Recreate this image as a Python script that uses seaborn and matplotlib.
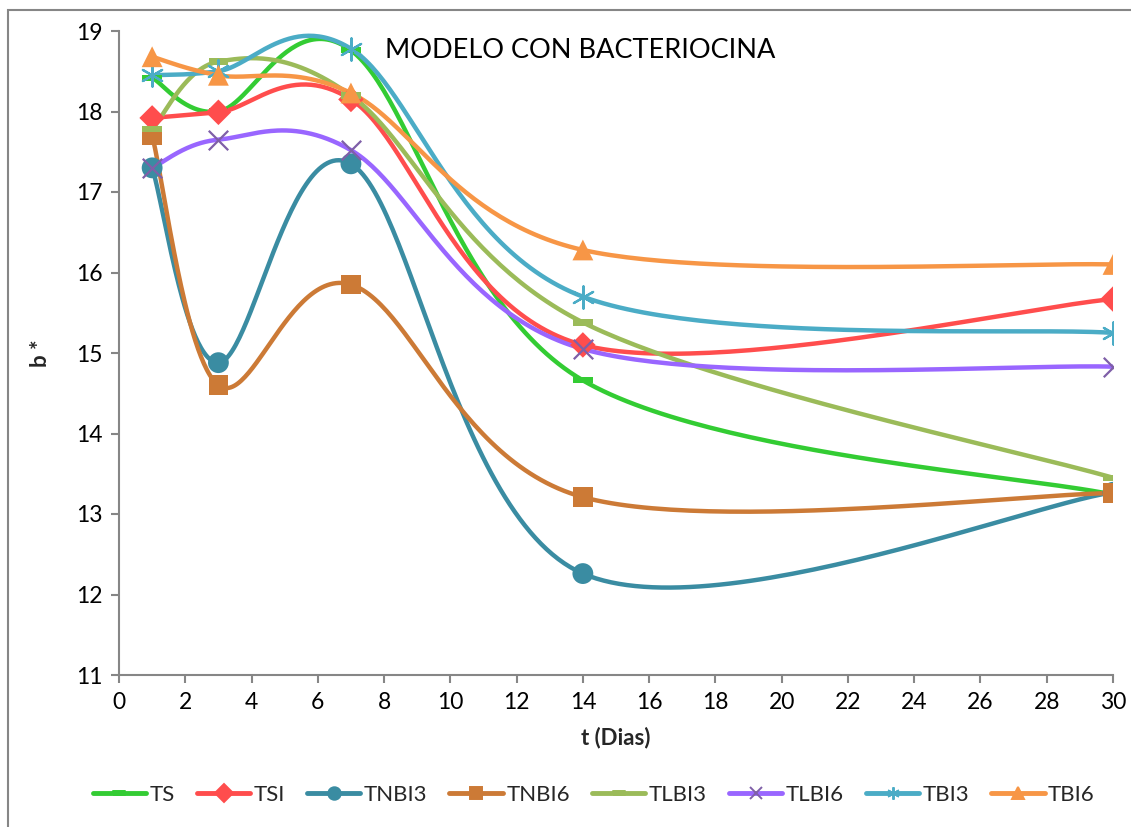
import numpy as np
import pandas as pd
import matplotlib
matplotlib.use("Agg")
import matplotlib.pyplot as plt
import seaborn as sns
from matplotlib.lines import Line2D
from matplotlib.patches import Rectangle

# Sampling days and b* colour coordinate per treatment
dias = [1, 3, 7, 14, 30]
series = ["TS", "TSI", "TNBI3", "TNBI6", "TLBI3", "TLBI6", "TBI3", "TBI6"]
ts = [18.42, 18.00, 18.76, 14.66, 13.24]
tsi = [17.92, 17.99, 18.15, 15.10, 15.67]
tnbi3 = [17.30, 14.88, 17.35, 12.26, 13.27]
tnbi6 = [17.70, 14.60, 15.85, 13.21, 13.26]
tlbi3 = [17.78, 18.62, 18.20, 15.38, 13.45]
tlbi6 = [17.30, 17.65, 17.52, 15.05, 14.83]
tbi3 = [18.45, 18.50, 18.78, 15.70, 15.25]
tbi6 = [18.68, 18.45, 18.23, 16.28, 16.10]
valores = [ts, tsi, tnbi3, tnbi6, tlbi3, tlbi6, tbi3, tbi6]

x_ticks = list(range(0, 31, 2))
y_ticks = list(range(11, 20))

colores = ["#33CC33", "#FF4D4D", "#3A8CA2", "#CC7A36", "#9BBB59", "#9966FF", "#4BACC6", "#F79646"]
marker_col = ["#33CC33", "#FF4D4D", "#3A8CA2", "#CC7A36", "#9BBB59", "#7F5FA8", "#4BACC6", "#F79646"]
dash = [(-1, -0.32), (1, -0.32), (1, 0.32), (-1, 0.32), (-1, -0.32)]
marcadores = [dash, "D", "o", "s", dash, "x", (6, 2, 0), "^"]
tam = [14, 13, 15, 14, 14, 14, 16, 15]

sns.set_theme(style="white")
plt.rcParams["font.family"] = ["Lato", "DejaVu Sans"]

fig = plt.figure(figsize=(11.31, 8.27), dpi=100)
ax = fig.add_axes([119 / 1131, 1 - 675 / 827, (1113 - 119) / 1131, (675 - 31) / 827])
ax.set_xlim(0, 30)
ax.set_ylim(11, 19)


def suavizar(ax, x, y, n=60):
    """Bezier smoothing through the points, computed in screen space."""
    pts = ax.transData.transform(np.column_stack([x, y]))
    P = np.vstack([pts[0], pts, pts[-1]])
    t = np.linspace(0, 1, n)[:, None]
    out = []
    for i in range(1, len(P) - 2):
        p0, p1, p2, p3 = P[i - 1], P[i], P[i + 1], P[i + 2]
        c1 = p1 + (p2 - p0) / 6
        c2 = p2 - (p3 - p1) / 6
        seg = ((1 - t) ** 3) * p1 + 3 * ((1 - t) ** 2) * t * c1 + 3 * (1 - t) * t ** 2 * c2 + t ** 3 * p2
        out.append(seg if i == 1 else seg[1:])
    curve = np.vstack(out)
    return ax.transData.inverted().transform(curve)


filas = []
for nombre, vals in zip(series, valores):
    c = suavizar(ax, dias, vals)
    for k, (xx, yy) in enumerate(c):
        filas.append({"serie": nombre, "orden": k, "t": xx, "b": yy})
curvas = pd.DataFrame(filas)

puntos = pd.DataFrame({"serie": np.repeat(series, len(dias)),
                       "t": dias * len(series),
                       "b": np.concatenate(valores)})

sns.lineplot(data=curvas, x="t", y="b", hue="serie", hue_order=series,
             palette=dict(zip(series, colores)), sort=False, estimator=None,
             linewidth=3.2, legend=False, ax=ax)

for nombre, mk, mc, s in zip(series, marcadores, marker_col, tam):
    sub = puntos[puntos["serie"] == nombre]
    lw = 1.6 if mk in ("x", (6, 2, 0)) else 0
    sns.scatterplot(data=sub, x="t", y="b", marker=mk, s=s ** 2, color=mc,
                    edgecolor=mc if lw else "none", linewidth=lw, ax=ax,
                    legend=False, zorder=3)

ax.set_xlim(0, 30)
ax.set_ylim(11, 19)
ax.set_xticks(x_ticks)
ax.set_yticks(y_ticks)
ax.tick_params(axis="both", which="major", labelsize=16.5, length=6, width=1.5,
               color="#868686", labelcolor="black", direction="out",
               left=True, bottom=True, pad=6)
for side in ("top", "right"):
    ax.spines[side].set_visible(False)
for side in ("left", "bottom"):
    ax.spines[side].set_color("#868686")
    ax.spines[side].set_linewidth(1.5)

ax.set_xlabel("t (Dias)", fontsize=16, fontweight="bold", labelpad=10)
ax.set_ylabel("b *", fontsize=16, fontweight="bold", labelpad=18)

ax.text(0.268, 0.97, "MODELO CON BACTERIOCINA", transform=ax.transAxes,
        fontsize=19.5, va="center", ha="left", color="black")

handles = []
for nombre, col, mk, mc in zip(series, colores, marcadores, marker_col):
    handles.append(Line2D([0], [0], color=col, lw=3.5, marker=mk, markersize=9,
                          markerfacecolor=mc, markeredgecolor=mc, markeredgewidth=1.4,
                          label=nombre))
fig.legend(handles=handles, loc="center", ncol=8, frameon=False, fontsize=16,
           bbox_to_anchor=(0.525, 1 - 795 / 827), handlelength=2.4,
           handletextpad=0.15, columnspacing=1.0)

fig.add_artist(Rectangle((8 / 1131, -0.05), 1.2, (827 - 10) / 827 + 0.05,
                         transform=fig.transFigure, fill=False,
                         edgecolor="#868686", linewidth=1.5, clip_on=False))

fig.savefig("out.png", dpi=100)
